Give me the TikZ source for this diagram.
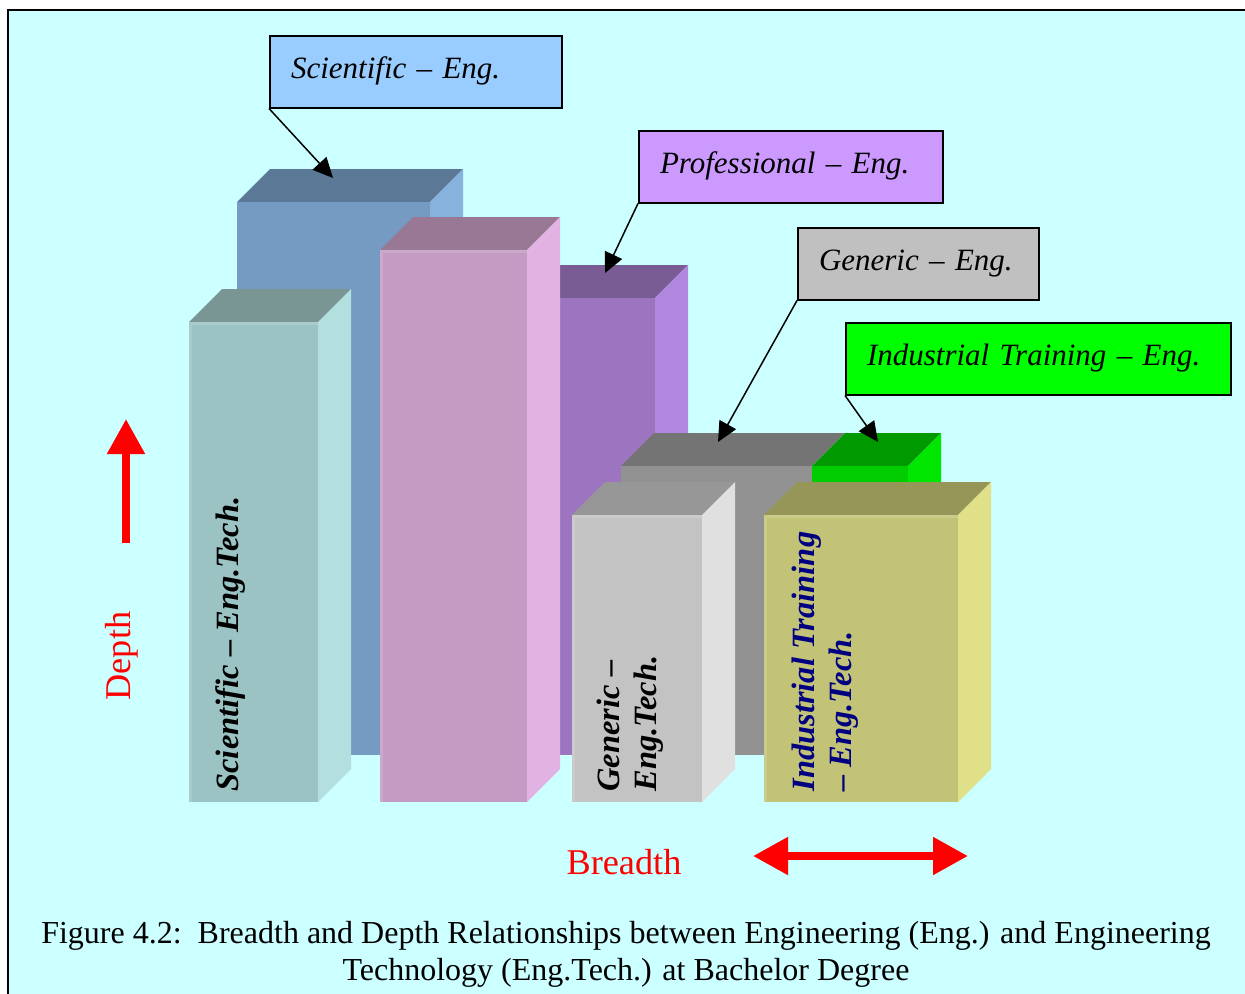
\documentclass[tikz,border=0pt]{standalone}
\usepackage{fontspec}
\setmainfont{Liberation Serif}
\usetikzlibrary{arrows.meta}
\usepackage{xcolor}
\definecolor{bgcyan}{HTML}{CCFFFF}
\definecolor{sciF}{HTML}{759BC3}\definecolor{sciT}{HTML}{5B7896}\definecolor{sciS}{HTML}{88B2DE}
\definecolor{proF}{HTML}{9D74C0}\definecolor{proT}{HTML}{7A5C94}\definecolor{proS}{HTML}{B287DF}
\definecolor{genF}{HTML}{929292}\definecolor{genT}{HTML}{747474}\definecolor{genS}{HTML}{A8A8A8}
\definecolor{indF}{HTML}{00CC00}\definecolor{indT}{HTML}{009900}\definecolor{indS}{HTML}{00E600}
\definecolor{sctF}{HTML}{9BC3C3}\definecolor{sctT}{HTML}{7A9694}\definecolor{sctS}{HTML}{B3DFDF}
\definecolor{prtF}{HTML}{C39BC3}\definecolor{prtT}{HTML}{987894}\definecolor{prtS}{HTML}{E2B2E2}
\definecolor{gntF}{HTML}{C3C3C3}\definecolor{gntT}{HTML}{979797}\definecolor{gntS}{HTML}{E0E0E0}
\definecolor{intF}{HTML}{C3C377}\definecolor{intT}{HTML}{979659}\definecolor{intS}{HTML}{E0E088}
\definecolor{sciBox}{HTML}{99CCFF}
\definecolor{proBox}{HTML}{CC99FF}
\definecolor{genBox}{HTML}{C0C0C0}
\definecolor{indBox}{HTML}{00FF00}
\definecolor{navytext}{HTML}{000080}

\begin{document}
\begin{tikzpicture}[x=0.4pt,y=-0.4pt,
  callout/.style={draw=black, line width=0.8pt, anchor=north west, align=left,
    inner xsep=8.4pt, inner ysep=0pt, text height=17pt, text depth=11.6pt,
    font=\fontsize{12.4}{15}\selectfont\itshape},
  pointer/.style={black, line width=0.6pt, -{Triangle[length=8pt,width=7.5pt]}},
  bartext/.style={rotate=90, anchor=west, align=left, inner sep=0pt,
    font=\fontsize{13}{15}\selectfont\bfseries\itshape},
  bigarrow/.style={red, line width=3.2pt}]
\useasboundingbox (0,0) rectangle (1245,993);
\clip (0,0) rectangle (1245,993);
\draw[fill=bgcyan, line width=0.8pt] (8,10) rectangle (1260,1010);

% back row: Eng.
\foreach \xa/\xb/\yt/\yb/\cf/\ct/\cs in {237/430/202/755/sciF/sciT/sciS,
    430/655/298/755/proF/proT/proS, 621/812/466/755/genF/genT/genS,
    812/908/466/755/indF/indT/indS} {
  \fill[\ct] (\xa,\yt) -- ++(33,-33) -- (\xb+33,\yt-33) -- (\xb,\yt) -- cycle;
  \fill[\cs] (\xb,\yt) -- ++(33,-33) -- (\xb+33,\yb-33) -- (\xb,\yb) -- cycle;
  \fill[\cf] (\xa,\yt) rectangle (\xb,\yb);
}
% front row: Eng.Tech.
\foreach \xa/\xb/\yt/\yb/\cf/\ct/\cs in {189/318/322/802/sctF/sctT/sctS,
    380/527/250/802/prtF/prtT/prtS, 572/702/515/802/gntF/gntT/gntS,
    764/958/515/802/intF/intT/intS} {
  \fill[\ct] (\xa,\yt) -- ++(33,-33) -- (\xb+33,\yt-33) -- (\xb,\yt) -- cycle;
  \fill[\cs] (\xb,\yt) -- ++(33,-33) -- (\xb+33,\yb-33) -- (\xb,\yb) -- cycle;
  \fill[\cf] (\xa,\yt) rectangle (\xb,\yb);
  \draw[white, opacity=.15, line width=1.2pt] (\xa+1.5,\yb) -- (\xa+1.5,\yt+1.5) -- (\xb,\yt+1.5);
}

\node[bartext] (scitech) at (231,792) {Scientific – Eng.Tech.};
\node[bartext] (gentech) at (630,792) {Generic –\\Eng.Tech.};
\node[bartext, text=navytext] (indtech) at (825,792) {Industrial Training\\– Eng.Tech.};

% callouts
\node[callout, fill=sciBox, text width=100pt] (scibox) at (269,35) {\mbox{Scientific – Eng.}};
\node[callout, fill=proBox, text width=104.8pt] (probox) at (638,130) {\mbox{Professional – Eng.}};
\node[callout, fill=genBox, text width=79.6pt] (genbox) at (797,227) {\mbox{Generic – Eng.}};
\node[callout, fill=indBox, text width=137.2pt] (indbox) at (845,322) {\mbox{Industrial Training – Eng.}};
\coordinate (scitip) at (333,178);
\coordinate (protip) at (605,273);
\coordinate (gentip) at (718,442);
\coordinate (indtip) at (878,442);
\draw[pointer] (scibox.south west) -- (scitip);
\draw[pointer] (probox.south west) -- (protip);
\draw[pointer] (genbox.south west) -- (gentip);
\draw[pointer] (indbox.south west) -- (indtip);

% depth and breadth
\coordinate (depthA) at (126,543);
\coordinate (depthB) at (126,419);
\draw[bigarrow, -{Triangle[length=14pt,width=14.4pt]}] (depthA) -- (depthB);
\node[red, rotate=90, font=\fontsize{14.5}{17}\selectfont] (depth) at (122,656) {Depth};
\coordinate (breadA) at (753,856);
\coordinate (breadB) at (968,856);
\draw[bigarrow, {Triangle[length=14pt,width=14.4pt]}-{Triangle[length=14pt,width=14.4pt]}] (breadA) -- (breadB);
\node[red, font=\fontsize{14.5}{17}\selectfont] (breadth) at (624,862) {Breadth};

\node[align=center, font=\fontsize{12.8}{14.8}\selectfont] (caption) at (626,954)
  {Figure 4.2:~~Breadth and Depth Relationships between Engineering (Eng.) and Engineering\\
   Technology (Eng.Tech.) at Bachelor Degree};
\end{tikzpicture}
\end{document}
